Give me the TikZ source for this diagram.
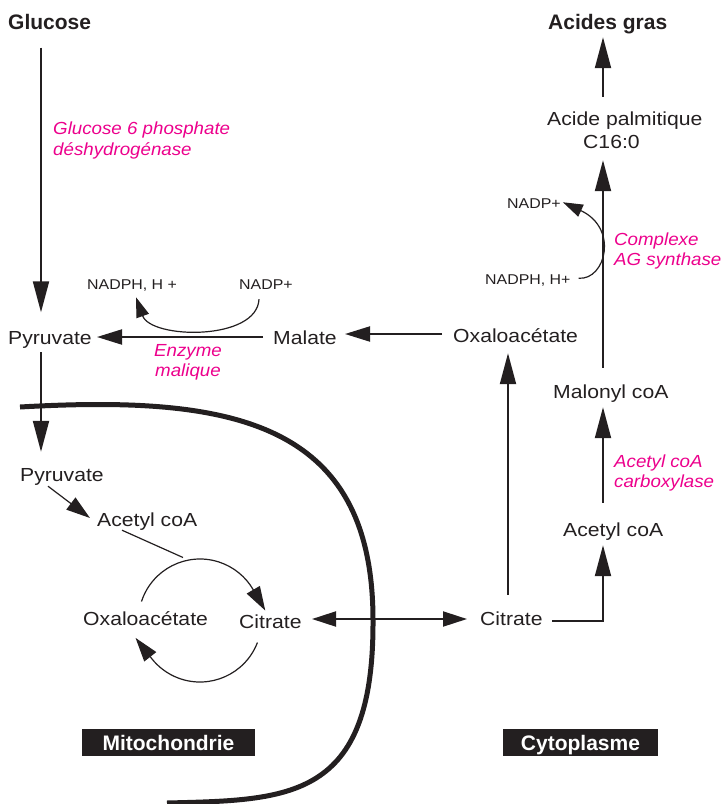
\documentclass[tikz,border=0pt]{standalone}
\usepackage{fontspec}
\setmainfont{Liberation Sans}
\newfontfamily\regf{Liberation Sans}[FakeStretch=1.12]
\newfontfamily\itf{Liberation Sans}[FakeStretch=1.07]
\newfontfamily\bdf{Liberation Sans}
\usetikzlibrary{arrows.meta,calc}
\definecolor{ink}{HTML}{231F20}
\definecolor{mag}{HTML}{EC008C}
\tikzset{
 reg/.style={font=\regf\fontsize{18.9pt}{22pt}\selectfont, text=ink, inner sep=0pt, text height=13.5pt, text depth=3.5pt, anchor=base west},
 sml/.style={font=\regf\fontsize{14.2pt}{17pt}\selectfont, text=ink, inner sep=0pt, text height=10.5pt, text depth=3pt, anchor=base west},
 enz/.style={font=\itf\itshape\fontsize{17.5pt}{20pt}\selectfont, text=mag, inner sep=0pt, text height=12.5pt, text depth=3.5pt, anchor=base west},
 bld/.style={font=\bdf\bfseries\fontsize{21pt}{24pt}\selectfont, text=ink, inner sep=0pt, text height=15pt, text depth=4.5pt, anchor=base west},
 zone/.style={fill=ink, text=white, font=\bdf\bfseries\fontsize{21pt}{24pt}\selectfont, inner sep=0pt, minimum height=27pt, text height=15pt, text depth=0pt},
 main/.style={draw=ink, line width=2pt, -{Triangle[length=31pt,width=16pt]}},
 hmain/.style={draw=ink, line width=2pt, -{Triangle[length=25pt,width=15pt]}},
 dbl/.style={draw=ink, line width=2pt, {Triangle[length=24pt,width=15pt]}-{Triangle[length=24pt,width=15pt]}},
 tri/.style={draw=ink, line width=1.2pt, -{Triangle[length=24pt,width=15pt]}},
 curv/.style={draw=ink, line width=1.2pt, -{Triangle[length=20pt,width=13pt]}},
 thinl/.style={draw=ink, line width=1.2pt},
 membrane/.style={draw=ink, line width=5pt}
}
\begin{document}
\begin{tikzpicture}[x=1pt,y=-1pt]
\useasboundingbox (0,0) rectangle (722,804);
% membrane
\draw[membrane] (20,407) .. controls (230,395) and (373,420) .. (373,620)
  .. controls (374,800) and (290,800) .. (167,803);
% nodes
\node[bld] (glucose) at (8,29) {Glucose};
\node[bld] (acides) at (548,29) {Acides gras};
\node[reg] (palm) at (547,125) {Acide palmitique};
\node[reg] (c16) at (583,148) {C16:0};
\node[sml] (nadpR) at (507,208) {NADP+};
\node[sml] (nadphR) at (485,284) {NADPH, H+};
\node[enz] (cplxA) at (614,245) {Complexe};
\node[enz] (cplxB) at (614,265) {AG synthase};
\node[enz] (gpdA) at (53,134) {Glucose 6 phosphate};
\node[enz] (gpdB) at (53,155) {déshydrogénase};
\node[sml] (nadphL) at (87,289) {NADPH, H +};
\node[sml] (nadpL) at (239,289) {NADP+};
\node[reg] (pyrA) at (8,344) {Pyruvate};
\node[reg] (malate) at (273,344) {Malate};
\node[reg] (oxaR) at (453,342) {Oxaloacétate};
\node[enz] (enzA) at (154,356) {Enzyme};
\node[enz] (enzB) at (155,376) {malique};
\node[reg] (malonyl) at (553,398) {Malonyl coA};
\node[enz] (accA) at (614,467) {Acetyl coA};
\node[enz] (accB) at (614,487) {carboxylase};
\node[reg] (acoaR) at (563,536) {Acetyl coA};
\node[reg] (citR) at (480,625) {Citrate};
\node[reg] (pyrB) at (20,481) {Pyruvate};
\node[reg] (acoaL) at (97,526) {Acetyl coA};
\node[reg] (oxaL) at (83,625) {Oxaloacétate};
\node[reg] (citL) at (239,628) {Citrate};
\node[zone, minimum width=173pt] (mito) at (168.5,742.5) {Mitochondrie};
\node[zone, minimum width=155pt] (cyto) at (580.5,742.5) {Cytoplasme};
\coordinate (cyc) at (200,620.5);
% connectors
\draw[main] ([xshift=33pt,yshift=-14pt]glucose.south west) -- ([xshift=33pt,yshift=18pt]pyrA.north west);
\draw[main] ([xshift=33pt,yshift=-4.5pt]pyrA.south west) -- ([xshift=21pt,yshift=15.5pt]pyrB.north west);
\draw[hmain] ([xshift=-10pt,yshift=2pt]malate.west) -- ([xshift=89pt,yshift=2pt]pyrA.west);
\draw[hmain] ([xshift=-11pt,yshift=3pt]oxaR.west) -- ([xshift=72pt,yshift=5pt]malate.west);
\draw[main] ([xshift=28pt,yshift=16.5pt]citR.north west) -- ([xshift=55pt,yshift=-7.5pt]oxaR.south west);
\draw[thinl] ([xshift=72pt,yshift=-1pt]citR.west) -- ($(acoaR.west |- citR.west)+(40pt,-1pt)$) coordinate (turn);
\draw[main] ([yshift=-0.6pt]turn) -- ([xshift=40pt,yshift=-5.5pt]acoaR.south west);
\draw[main] ([xshift=40pt,yshift=19.5pt]acoaR.north west) -- ([xshift=50pt,yshift=-5.5pt]malonyl.south west);
\draw[main] ([xshift=50pt,yshift=16.5pt]malonyl.north west) -- ([xshift=20pt,yshift=-8.5pt]c16.south west);
\draw[main] ([xshift=56pt,yshift=14.5pt]palm.north west) -- ([xshift=55pt,yshift=-3.5pt]acides.south west);
\draw[curv] ([xshift=8pt,yshift=2pt]nadphR.east) .. controls +(27,2) and +(56,26) .. ([xshift=2pt,yshift=2pt]nadpR.east);
\draw[curv] ([xshift=20pt,yshift=-7pt]nadpL.south west) .. controls +(-2,42) and +(15,42) .. ([xshift=49pt,yshift=-5pt]nadphL.south west);
\draw[tri] ([xshift=28pt,yshift=-1.5pt]pyrB.south west) -- ([xshift=-7pt,yshift=3pt]acoaL.west);
\draw[thinl] ([xshift=25pt,yshift=-0.5pt]acoaL.south west) -- ([shift={(-17pt,63pt)}]cyc);
\draw[tri] ([shift={(162:61.5pt)}]cyc) arc[start angle=162, end angle=30, radius=61.5pt] -- ++(-60:24pt);
\draw[tri] ([shift={(-21:61.5pt)}]cyc) arc[start angle=-21, end angle=-142, radius=61.5pt] -- ++(128:26pt);
\draw[dbl] ([xshift=73pt,yshift=4pt]citL.west) -- ([xshift=-13pt,yshift=1pt]citR.west);
\end{tikzpicture}
\end{document}
